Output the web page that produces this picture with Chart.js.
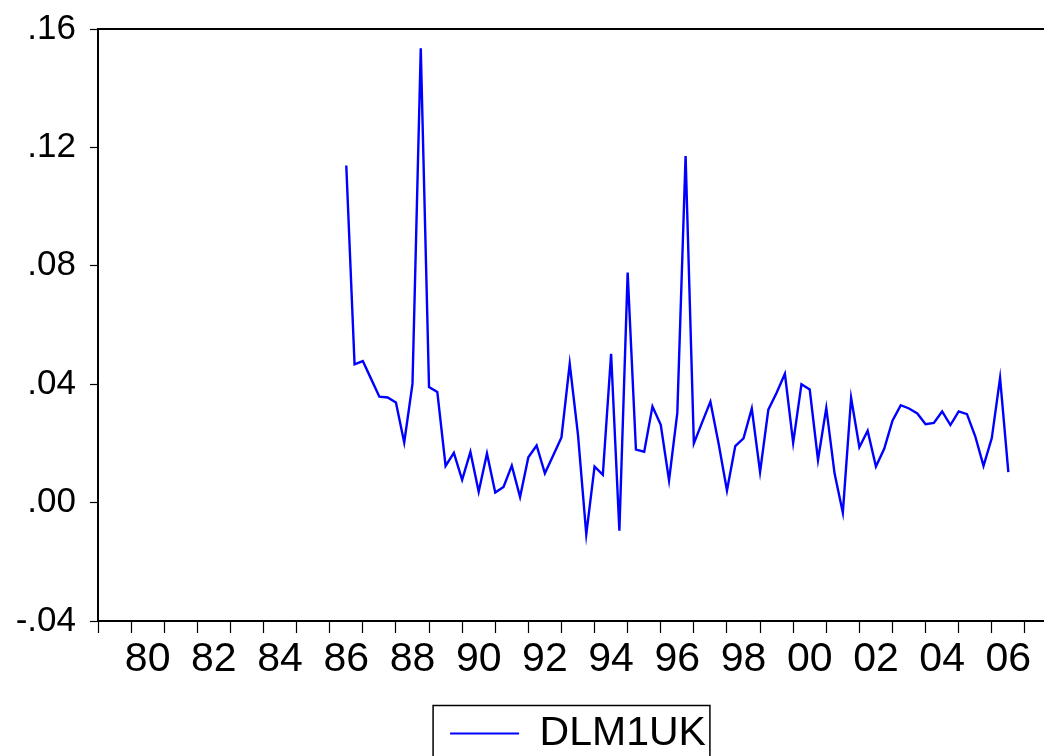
<!DOCTYPE html>
<html>
<head>
<meta charset="utf-8">
<title>DLM1UK</title>
<script src="https://cdn.jsdelivr.net/npm/chart.js@4.4.1/dist/chart.umd.min.js"></script>
<style>
  html, body { margin: 0; padding: 0; background: #ffffff; overflow: hidden; }
  #frame { width: 1044px; height: 756px; position: relative; overflow: hidden; }
  #wrap { width: 1058px; height: 764px; position: absolute; left: 0; top: 0; }
</style>
</head>
<body>
<div id="frame"><div id="wrap"><canvas id="chart"></canvas></div></div>
<script>
// Quarterly observations of DLM1UK
const quarters = [
  '1986Q3','1986Q4',
  '1987Q1','1987Q2','1987Q3','1987Q4',
  '1988Q1','1988Q2','1988Q3','1988Q4',
  '1989Q1','1989Q2','1989Q3','1989Q4',
  '1990Q1','1990Q2','1990Q3','1990Q4',
  '1991Q1','1991Q2','1991Q3','1991Q4',
  '1992Q1','1992Q2','1992Q3','1992Q4',
  '1993Q1','1993Q2','1993Q3','1993Q4',
  '1994Q1','1994Q2','1994Q3','1994Q4',
  '1995Q1','1995Q2','1995Q3','1995Q4',
  '1996Q1','1996Q2','1996Q3','1996Q4',
  '1997Q1','1997Q2','1997Q3','1997Q4',
  '1998Q1','1998Q2','1998Q3','1998Q4',
  '1999Q1','1999Q2','1999Q3','1999Q4',
  '2000Q1','2000Q2','2000Q3','2000Q4',
  '2001Q1','2001Q2','2001Q3','2001Q4',
  '2002Q1','2002Q2','2002Q3','2002Q4',
  '2003Q1','2003Q2','2003Q3','2003Q4',
  '2004Q1','2004Q2','2004Q3','2004Q4',
  '2005Q1','2005Q2','2005Q3','2005Q4',
  '2006Q1','2006Q2','2006Q3'
];

const dlm1uk = [
  0.1139, 0.0467,
  0.0478, 0.0418, 0.0358, 0.0355,
  0.0338, 0.0203, 0.0401, 0.1535,
  0.0390, 0.0374, 0.0124, 0.0168,
  0.0077, 0.0171, 0.0037, 0.0166,
  0.0034, 0.0053, 0.0125, 0.0019,
  0.0153, 0.0193, 0.0099, 0.0159,
  0.0220, 0.0469, 0.0229, -0.0107,
  0.0122, 0.0094, 0.0503, -0.0095,
  0.0777, 0.0179, 0.0172, 0.0325,
  0.0263, 0.0075, 0.0303, 0.1171,
  0.0200, 0.0271, 0.0341, 0.0198,
  0.0041, 0.0191, 0.0217, 0.0318,
  0.0103, 0.0314, 0.0371, 0.0435,
  0.0202, 0.0400, 0.0382, 0.0144,
  0.0320, 0.0099, -0.0034, 0.0354,
  0.0187, 0.0243, 0.0122, 0.0182,
  0.0277, 0.0329, 0.0318, 0.0301,
  0.0265, 0.0269, 0.0308, 0.0262,
  0.0308, 0.0299, 0.0224, 0.0124,
  0.0218, 0.0421, 0.0103
];

// Axis definitions
const yTicks = [-0.04, 0.00, 0.04, 0.08, 0.12, 0.16];
const yearTicks = [1979, 1980, 1981, 1982, 1983, 1984, 1985, 1986, 1987, 1988,
                   1989, 1990, 1991, 1992, 1993, 1994, 1995, 1996, 1997, 1998,
                   1999, 2000, 2001, 2002, 2003, 2004, 2005, 2006, 2007, 2008];
const labelYears = [1980, 1982, 1984, 1986, 1988, 1990, 1992,
                    1994, 1996, 1998, 2000, 2002, 2004, 2006];
const yearLabels = ['80', '82', '84', '86', '88', '90', '92',
                    '94', '96', '98', '00', '02', '04', '06'];

const xMin = 1979;
const xMax = 2008;

// Convert "YYYYQn" into a fractional year
function quarterToYear(q) {
  const year = parseInt(q.slice(0, 4), 10);
  const n = parseInt(q.slice(5), 10);
  return year + (n - 1) / 4;
}

const points = quarters.map((q, i) => ({ x: quarterToYear(q), y: dlm1uk[i] }));

function fmtY(v) {
  const s = Number(v).toFixed(2);
  return s.replace(/^(-?)0\./, '$1.');
}

// Frame drawn around the legend entry
const legendFrame = {
  id: 'legendFrame',
  afterDraw(chart) {
    const lg = chart.legend;
    if (!lg || !lg.legendHitBoxes || !lg.legendHitBoxes.length) return;
    const hb = lg.legendHitBoxes[0];
    const ctx = chart.ctx;
    const cy = hb.top + hb.height / 2;
    ctx.save();
    ctx.strokeStyle = '#000000';
    ctx.lineWidth = 1.5;
    ctx.strokeRect(hb.left - 17, cy - 28, hb.width + 21, 80);
    ctx.restore();
  }
};

const ctx = document.getElementById('chart').getContext('2d');
new Chart(ctx, {
  type: 'line',
  data: {
    datasets: [{
      label: 'DLM1UK',
      data: points,
      borderColor: '#0000ff',
      backgroundColor: '#0000ff',
      borderWidth: 2.4,
      pointRadius: 0,
      tension: 0,
      fill: false
    }]
  },
  options: {
    responsive: true,
    maintainAspectRatio: false,
    animation: false,
    layout: { padding: { top: 29, right: 0, left: 0, bottom: 0 } },
    plugins: {
      tooltip: { enabled: false },
      legend: {
        display: true,
        position: 'bottom',
        fullSize: false,
        labels: {
          boxWidth: 69,
          boxHeight: 2,
          padding: 0,
          color: '#000000',
          font: { family: "'Liberation Sans', Arial, sans-serif", size: 41, lineHeight: 1.0 },
          generateLabels: () => [{
            text: 'DLM1UK',
            fillStyle: '#0000ff',
            strokeStyle: '#0000ff',
            lineWidth: 0,
            datasetIndex: 0
          }]
        }
      }
    },
    scales: {
      x: {
        type: 'linear',
        position: 'bottom',
        min: xMin,
        max: xMax,
        afterBuildTicks: (scale) => {
          const t = yearTicks.map(v => ({ value: v }))
            .concat(labelYears.map(v => ({ value: v + 0.5 })));
          t.sort((a, b) => a.value - b.value);
          scale.ticks = t;
        },
        afterFit: (scale) => { scale.height = 92; scale.paddingLeft = 0; scale.paddingRight = 0; },
        ticks: {
          autoSkip: false,
          maxRotation: 0,
          minRotation: 0,
          padding: 2,
          color: '#000000',
          font: { family: "'Liberation Sans', Arial, sans-serif", size: 41 },
          callback: (value) => {
            const idx = labelYears.indexOf(Math.round(value - 0.5));
            return (Math.abs(value % 1 - 0.5) < 1e-6 && idx >= 0) ? yearLabels[idx] : '';
          }
        },
        grid: {
          drawOnChartArea: false,
          drawTicks: true,
          tickLength: 12,
          tickWidth: 1.2,
          tickColor: (c) => (c.tick && Math.abs(c.tick.value % 1) > 1e-6) ? 'rgba(0,0,0,0)' : '#000000'
        },
        border: { display: true, color: '#000000', width: 2 }
      },
      xTop: {
        type: 'linear',
        position: 'top',
        min: xMin,
        max: xMax,
        ticks: { display: false },
        grid: { drawOnChartArea: false, drawTicks: false },
        border: { display: true, color: '#000000', width: 2 },
        afterFit: (scale) => { scale.height = 0; scale.paddingLeft = 0; scale.paddingRight = 0; }
      },
      y: {
        type: 'linear',
        position: 'left',
        min: -0.04,
        max: 0.16,
        afterBuildTicks: (scale) => { scale.ticks = yTicks.map(v => ({ value: v })); },
        afterFit: (scale) => { scale.width = 98; scale.paddingTop = 0; scale.paddingBottom = 0; },
        ticks: {
          padding: 14,
          color: '#000000',
          font: { family: "'Liberation Sans', Arial, sans-serif", size: 35 },
          callback: (value) => fmtY(value)
        },
        grid: {
          drawOnChartArea: false,
          drawTicks: true,
          tickLength: 8,
          tickWidth: 1.2,
          tickColor: '#000000'
        },
        border: { display: true, color: '#000000', width: 2 }
      }
    }
  },
  plugins: [legendFrame]
});
</script>
</body>
</html>
